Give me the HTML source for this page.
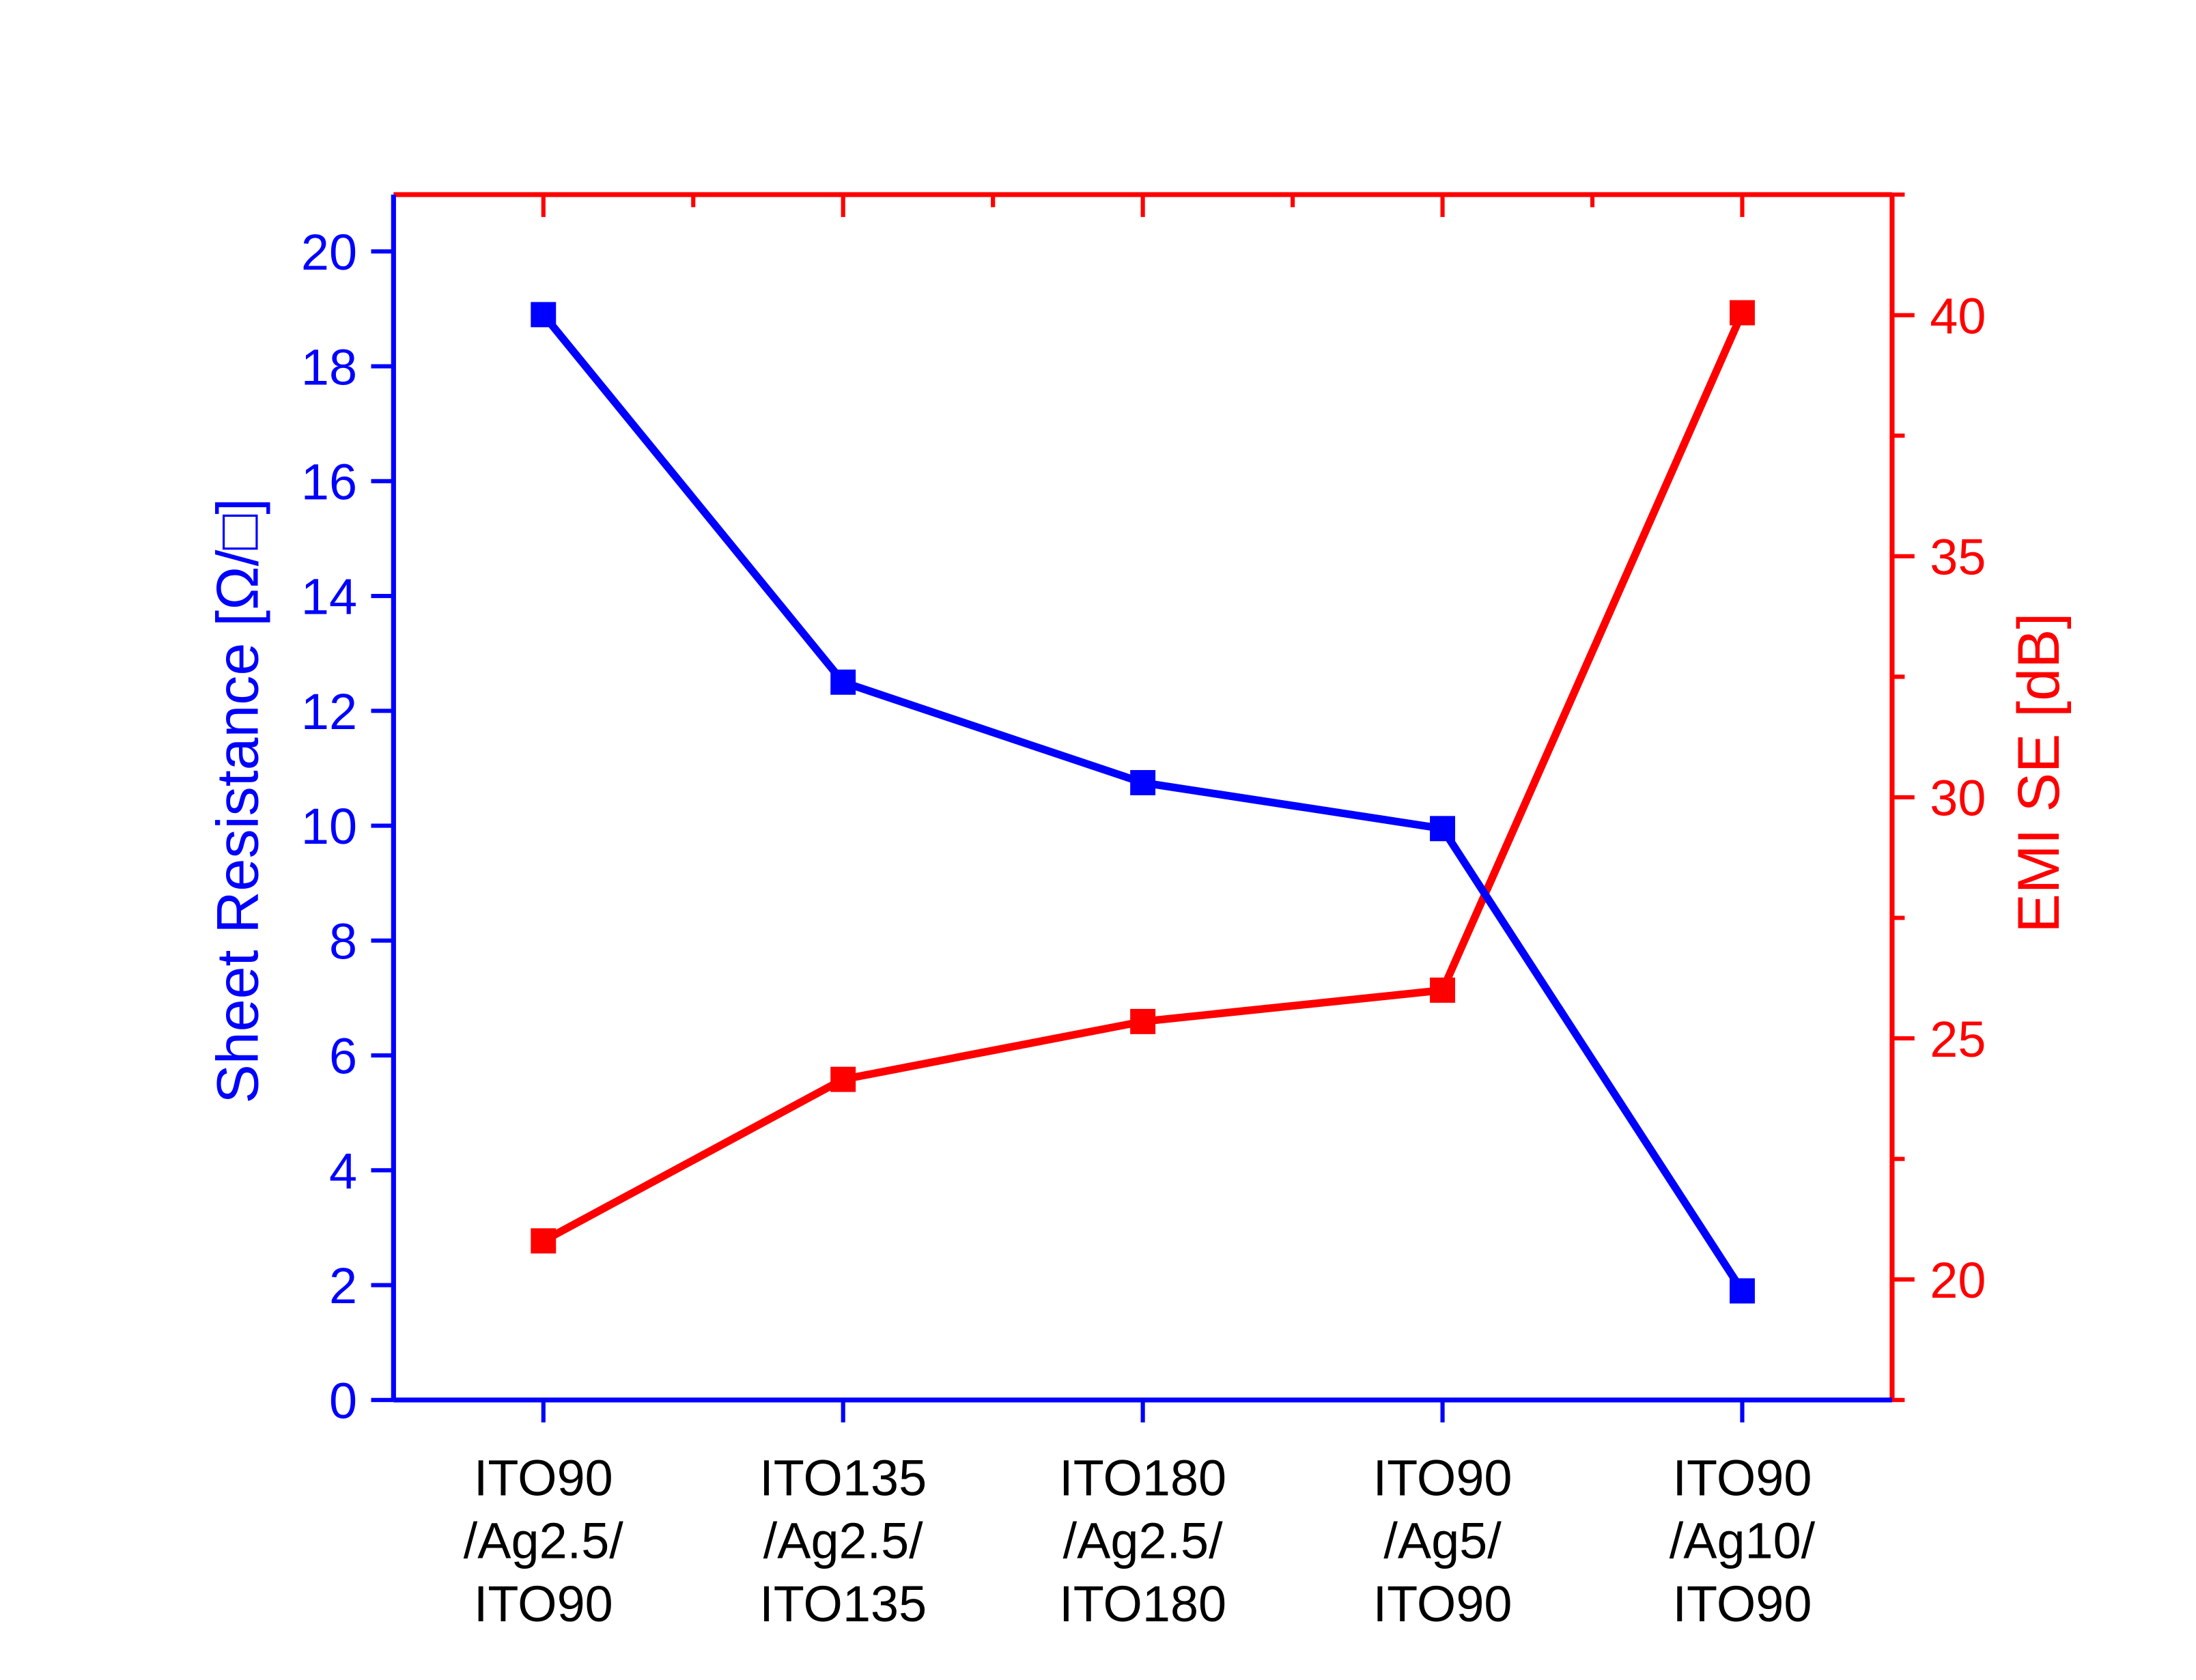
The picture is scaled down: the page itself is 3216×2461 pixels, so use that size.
<!DOCTYPE html>
<html><head><meta charset="utf-8"><style>html,body{margin:0;padding:0;background:#fff}svg{display:block}</style></head>
<body>
<svg id="chart" xmlns="http://www.w3.org/2000/svg" width="3216" height="2461" viewBox="0 0 1568 1200" preserveAspectRatio="none" font-family="'Liberation Sans', Arial, sans-serif">
<rect width="1568" height="1200" fill="#fff"/>
<g id="g"></g>
</svg>
<script>
const categories = [["ITO90","/Ag2.5/","ITO90"],["ITO135","/Ag2.5/","ITO135"],["ITO180","/Ag2.5/","ITO180"],["ITO90","/Ag5/","ITO90"],["ITO90","/Ag10/","ITO90"]];
const sheetResistance = [18.9, 12.5, 10.75, 9.95, 1.9];
const emiSE = [20.8, 24.15, 25.35, 26.0, 40.05];
const leftTicks = [0,2,4,6,8,10,12,14,16,18,20];
const rightTicks = [20,25,30,35,40];
const rightMinor = [17.5,22.5,27.5,32.5,37.5,42.5];

const NS="http://www.w3.org/2000/svg";
const g=document.getElementById('g');
const L=281,R=1351,T=139,B=1000;
const xS=i=>L+(i+0.5)*(R-L)/5;
const yL=v=>B-(v-0)/(20.99-0)*(B-T);
const rMin=17.5,rMax=42.5;
const yR=v=>B-(v-rMin)/(rMax-rMin)*(B-T);
function el(tag,attrs,name,parent){const e=document.createElementNS(NS,tag);for(const k in attrs)e.setAttribute(k,attrs[k]);


(parent||g).appendChild(e);return e;}
const BLUE="#0000ff",RED="#ff0000";
el('line',{x1:L,y1:T,x2:R,y2:T,stroke:RED,'stroke-width':3.5},'top-axis-line');
for(let i=0;i<5;i++){el('line',{x1:xS(i),y1:T,x2:xS(i),y2:T+16,stroke:RED,'stroke-width':3},'top-tick');}
for(let i=0;i<4;i++){const x=(xS(i)+xS(i+1))/2;el('line',{x1:x,y1:T,x2:x,y2:T+9,stroke:RED,'stroke-width':3},'top-minor-tick');}
el('line',{x1:R,y1:T,x2:R,y2:B,stroke:RED,'stroke-width':3.5},'right-axis-line');
rightTicks.forEach(v=>{const y=yR(v);el('line',{x1:R,y1:y,x2:R+16,y2:y,stroke:RED,'stroke-width':3},'right-tick');
const t=el('text',{x:R+27,y:y+13,fill:RED,'font-size':36},'right-tick-label');t.textContent=v;});
rightMinor.forEach(v=>{const y=yR(v);el('line',{x1:R,y1:y,x2:R+9,y2:y,stroke:RED,'stroke-width':3},'right-minor-tick');});
el('line',{x1:L,y1:T,x2:L,y2:B,stroke:BLUE,'stroke-width':3.5},'left-axis-line');
leftTicks.forEach(v=>{const y=yL(v);el('line',{x1:L,y1:y,x2:L-16,y2:y,stroke:BLUE,'stroke-width':3},'left-tick');
const t=el('text',{x:L-26,y:y+13,fill:BLUE,'font-size':36,'text-anchor':'end'},'left-tick-label');t.textContent=v;});
el('line',{x1:L,y1:B,x2:R,y2:B,stroke:BLUE,'stroke-width':3.5},'bottom-axis-line');
categories.forEach((c,i)=>{const x=xS(i);el('line',{x1:x,y1:B,x2:x,y2:B+16,stroke:BLUE,'stroke-width':3},'bottom-tick');
const t=el('text',{x:x,y:1068,'font-size':36,'text-anchor':'middle',fill:'#000'},'category-label');
c.forEach((s,j)=>{const ts=document.createElementNS(NS,'tspan');ts.setAttribute('x',x);ts.setAttribute('dy',j?45:0);ts.textContent=s;t.appendChild(ts);});});
let t=el('text',{x:0,y:0,fill:BLUE,'font-size':42,'text-anchor':'middle',transform:'translate(184,572) rotate(-90)'},'left-axis-title');t.textContent='Sheet Resistance [Ω/□]';
t=el('text',{x:0,y:0,fill:RED,'font-size':42,'text-anchor':'middle',transform:'translate(1470,552) rotate(-90)'},'right-axis-title');t.textContent='EMI SE [dB]';
function series(vals,yf,col,name){
 el('polyline',{points:vals.map((v,i)=>xS(i)+','+yf(v)).join(' '),fill:'none',stroke:col,'stroke-width':5.5,'stroke-linejoin':'round'},name+'-line');
 vals.forEach((v,i)=>el('rect',{x:xS(i)-9,y:yf(v)-9,width:18,height:18,fill:col},name+'-marker'));
}
series(emiSE,yR,RED,'emi-se');
series(sheetResistance,yL,BLUE,'sheet-resistance');
</script>
</body></html>
